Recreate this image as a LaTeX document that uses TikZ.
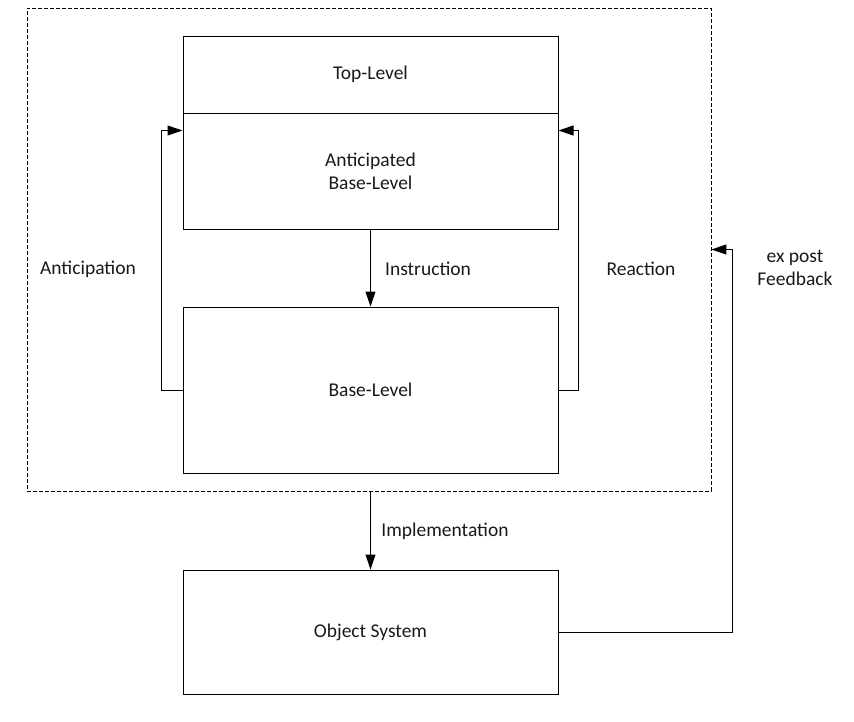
\documentclass[tikz,border=0pt]{standalone}
\usepackage{fontspec}
\setmainfont{Carlito}
\usepackage{tikz}
\usetikzlibrary{arrows.meta, positioning, calc}

\begin{document}
\begin{tikzpicture}[x=1pt, y=-1pt,
    box/.style={draw, line width=1pt, minimum width=375pt, inner sep=0pt, align=center, font=\fontsize{19.5}{23}\selectfont, text=black!90},
    lbl/.style={align=center, font=\fontsize{19.5}{23}\selectfont, text=black!90},
    flow/.style={line width=1pt, -{Triangle[length=15pt, width=10pt]}}]
    % Fix the canvas size
    \useasboundingbox (0,0) rectangle (854,721);

    % Dashed frame round the levels
    \node[draw, line width=0.8pt, dash pattern=on 4pt off 2pt, minimum width=684pt, minimum height=483pt, inner sep=0pt] (frame) at (369, 249.5) {};

    % Level boxes
    \node[box, minimum height=77pt] (top) at (370.5, 74.5) {Top-Level};
    \node[box, minimum height=116pt] (antic) at (370.5, 171) {Anticipated\\Base-Level};
    \node[box, minimum height=166pt] (base) at (370.5, 390) {Base-Level};
    \node[box, minimum height=124pt] (obj) at (370.5, 632) {Object System};

    % Connectors
    \draw[flow] (antic.south) -- (base.north);
    \draw[flow] (base.west) -- ++(-21,0) |- ($(antic.north west)+(0,18)$);
    \draw[flow] (base.east) -- ++(20,0) |- ($(antic.north east)+(0,18)$);
    \draw[flow] (base.south |- frame.south) -- (obj.north);
    \draw[flow] (obj.east) -- ++(174,0) |- (frame.east);

    % Labels
    \node[lbl] (instr) at (428, 269) {Instruction};
    \node[lbl] (anticip) at (88, 269) {Anticipation};
    \node[lbl] (react) at (641, 269) {Reaction};
    \node[lbl] (impl) at (445, 531) {Implementation};
    \node[lbl] (feedb) at (795, 268) {ex post\\Feedback};
\end{tikzpicture}
\end{document}
